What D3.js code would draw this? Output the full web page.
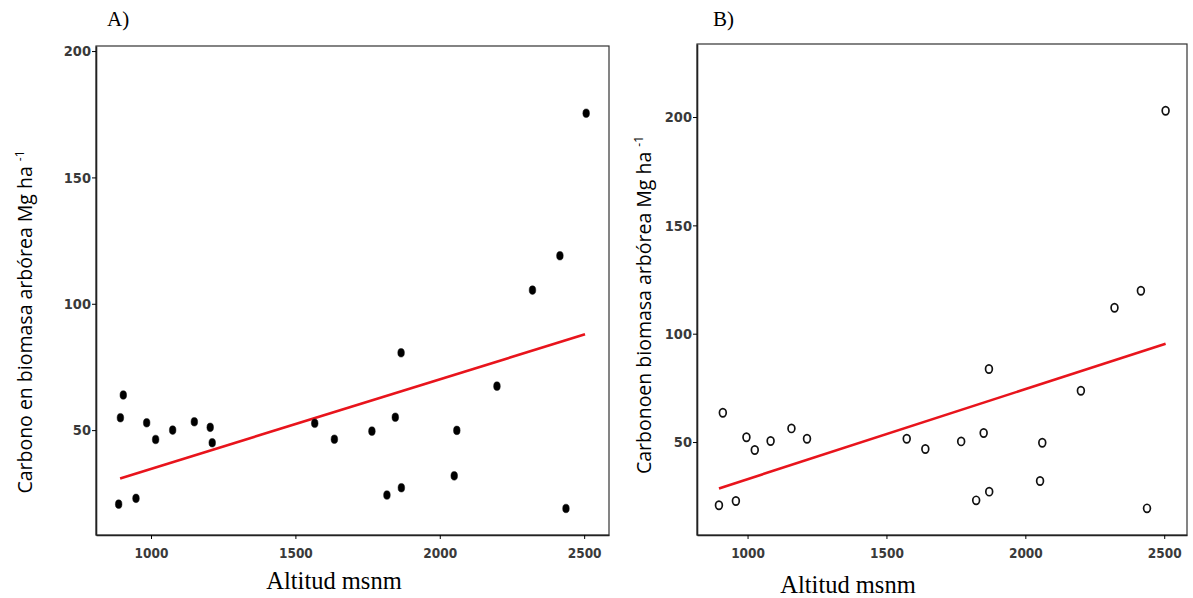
<!DOCTYPE html>
<html>
<head>
<meta charset="utf-8">
<script src="https://cdn.jsdelivr.net/npm/d3@7"></script>
<style>
  body { margin: 0; background: #fff; }
  .tick text { font-family: "DejaVu Sans Condensed", "DejaVu Sans", sans-serif; font-weight: bold; fill: #3a3a3a; }
</style>
</head>
<body>
<svg width="1193" height="598"></svg>
<script>
// panel A: altitude vs carbon
const altA = [894, 904, 888, 948, 985, 1016, 1075, 1150, 1205, 1212, 1567, 1635,
  1765, 1846, 1866, 1817, 1867, 2059, 2050, 2198, 2437, 2507, 2416, 2321];
const carbonA = [54.9, 63.9, 20.7, 23.0, 52.9, 46.3, 50.0, 53.3, 51.1, 45.0, 52.7, 46.4,
  49.6, 55.1, 80.6, 24.3, 27.2, 49.9, 31.9, 67.4, 19.0, 175.4, 119.0, 105.4];
const fitAltA = [893, 2503];
const fitCarbonA = [30.9, 87.9];

// panel B
const altB = [911, 996, 1026, 1083, 1158, 1214, 897, 958, 1573, 1640, 1769, 1850,
  1869, 1823, 1870, 2061, 2053, 2200, 2438, 2321, 2505, 2416];
const carbonB = [63.5, 52.2, 46.3, 50.5, 56.3, 51.5, 20.8, 22.8, 51.5, 46.8, 50.3, 54.2,
  83.7, 23.1, 27.1, 49.7, 32.0, 73.7, 19.4, 112.0, 202.9, 119.8];
const fitAltB = [897, 2505];
const fitCarbonB = [28.6, 95.4];

const xTicks = [1000, 1500, 2000, 2500];
const yTicks = [50, 100, 150, 200];

const svg = d3.select("svg");
const red = "#e8141c";

function drawPanel(p) {
  const x = d3.scaleLinear().domain(p.xDomain).range([p.left, p.right]);
  const y = d3.scaleLinear().domain(p.yDomain).range([p.bottom, p.top]);
  const g = svg.append("g");

  // frame
  g.append("rect")
    .attr("x", p.left).attr("y", p.top)
    .attr("width", p.right - p.left).attr("height", p.bottom - p.top)
    .attr("fill", "none").attr("stroke", "#333").attr("stroke-width", 1.2);

  const xAxis = d3.axisBottom(x).tickValues(xTicks).tickFormat(d3.format("d"))
    .tickSizeOuter(0).tickSizeInner(4);
  g.append("g").attr("transform", `translate(0,${p.bottom})`).call(xAxis)
    .call(a => a.select(".domain").attr("stroke", "#222").attr("stroke-width", 1.6))
    .call(a => a.selectAll(".tick text").attr("y", 13).attr("font-size", 13.5));

  const yAxis = d3.axisLeft(y).tickValues(yTicks).tickFormat(d3.format("d"))
    .tickSizeOuter(0).tickSizeInner(4);
  g.append("g").attr("transform", `translate(${p.left},0)`).call(yAxis)
    .call(a => a.select(".domain").attr("stroke", "#222").attr("stroke-width", 1.6))
    .call(a => a.selectAll(".tick text").attr("x", -5).attr("font-size", 14.5));

  // fit line
  const line = d3.line().x(d => x(d[0])).y(d => y(d[1]));
  g.append("path")
    .attr("d", line(d3.zip(p.fitX, p.fitY)))
    .attr("fill", "none").attr("stroke", red).attr("stroke-width", 2.6);

  // points
  const pts = d3.zip(p.xs, p.ys);
  g.selectAll("ellipse.pt").data(pts).join("ellipse")
    .attr("class", "pt")
    .attr("cx", d => x(d[0])).attr("cy", d => y(d[1]))
    .attr("rx", p.filled ? 3.3 : 3.4).attr("ry", p.filled ? 4.3 : 4.1)
    .attr("fill", p.filled ? "#000" : "none")
    .attr("stroke", "#111").attr("stroke-width", p.filled ? 0.5 : 1.7);

  // labels
  g.append("text")
    .attr("x", p.tagX).attr("y", p.tagY)
    .attr("font-family", "Liberation Serif, Times New Roman, serif")
    .attr("font-size", 21).text(p.tag);

  g.append("text")
    .attr("x", p.xLabelX).attr("y", p.xLabelY)
    .attr("text-anchor", "middle")
    .attr("font-family", "Liberation Serif, Times New Roman, serif")
    .attr("font-size", 24.5).text("Altitud msnm");

  const yl = g.append("text")
    .attr("transform", `translate(${p.yLabelX},${p.yLabelY}) rotate(-90)`)
    .attr("text-anchor", "middle")
    .attr("font-family", "Open Sans, Noto Sans, sans-serif")
    .attr("font-size", 19.5);
  yl.append("tspan").text(p.yLabel + "Mg ha ");
  yl.append("tspan").attr("font-size", 12).attr("dy", -8).text("-1");
}

drawPanel({
  left: 96, right: 609, top: 46, bottom: 535,
  xDomain: [809.5, 2586], yDomain: [8.5, 202],
  xs: altA, ys: carbonA, fitX: fitAltA, fitY: fitCarbonA, filled: true,
  tag: "A)", tagX: 107, tagY: 26,
  xLabelX: 334, xLabelY: 589,
  yLabel: "Carbono en biomasa arbórea ", yLabelX: 32, yLabelY: 322
});

drawPanel({
  left: 697, right: 1187, top: 44, bottom: 535,
  xDomain: [818, 2582], yDomain: [7.1, 233.7],
  xs: altB, ys: carbonB, fitX: fitAltB, fitY: fitCarbonB, filled: false,
  tag: "B)", tagX: 713, tagY: 26,
  xLabelX: 848, xLabelY: 593,
  yLabel: "Carbonoen biomasa arbórea ", yLabelX: 651, yLabelY: 305
});
</script>
</body>
</html>
